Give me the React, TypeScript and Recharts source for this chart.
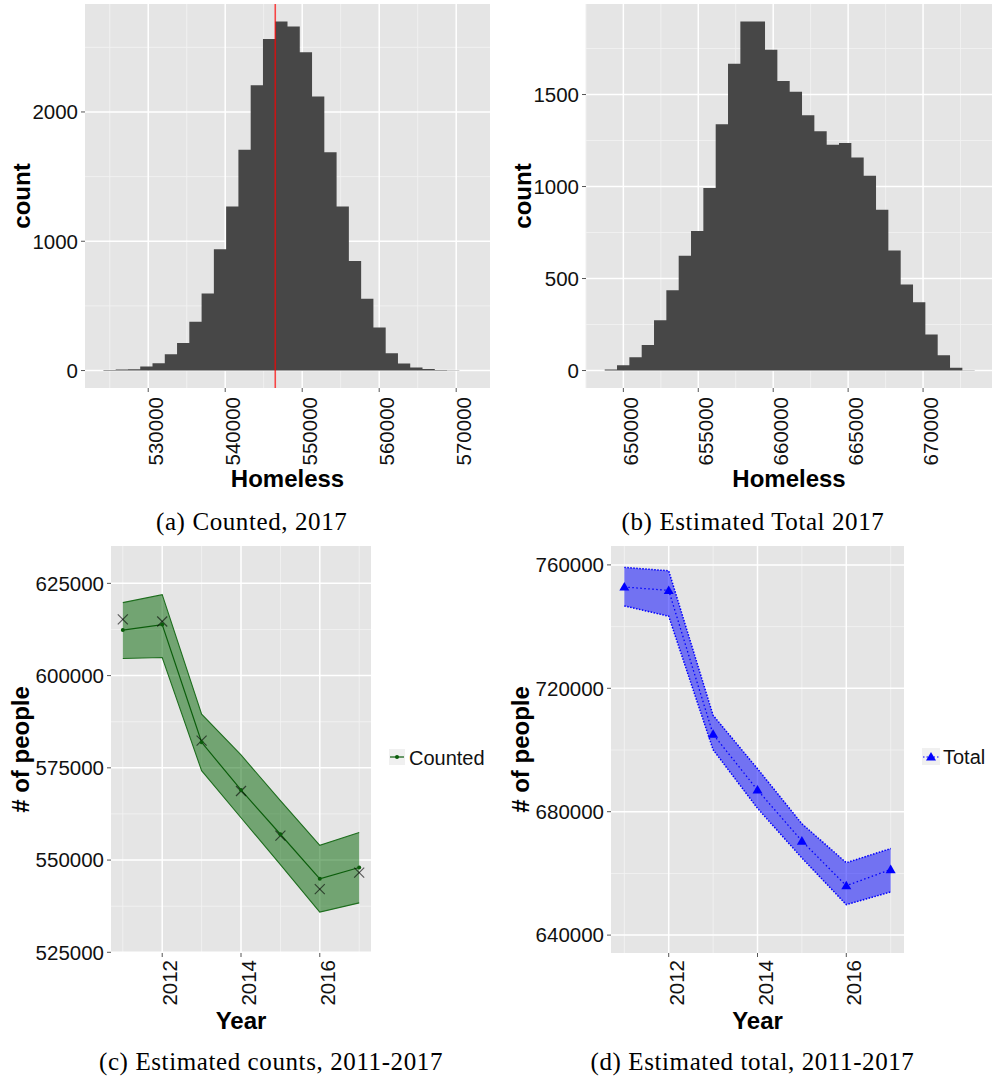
import React from "react";
import {
  ComposedChart,
  Area,
  Line,
  Scatter,
  XAxis,
  YAxis,
  CartesianGrid,
  ReferenceLine,
  Legend,
  Label,
} from "recharts";

const FONT = "'Liberation Sans', Arial, Helvetica, sans-serif";
const SERIF = "'Liberation Serif', 'Times New Roman', serif";
const PANEL = "#E5E5E5";
const MINOR = "#F2F2F2";
const TICK = "#555555";
const TEXT = "#111111";
const BAR = "#474747";

// ---------- (a) Counted, 2017 : histogram ----------
const countedBinEdges = [
  524180, 525774, 527368, 528962, 530556, 532150, 533744, 535338, 536932, 538526,
  540120, 541714, 543308, 544902, 546496, 548090, 549684, 551278, 552872, 554466,
  556060, 557654, 559248, 560842, 562436, 564030, 565624, 567218, 568812, 570406,
  572000,
];
const countedBinCounts = [
  4, 9, 10, 31, 57, 127, 214, 377, 596, 939, 1269, 1707, 2207, 2565, 2700, 2661,
  2462, 2119, 1689, 1269, 848, 555, 333, 134, 54, 23, 11, 5, 2, 1,
];
const countedMarker = 546500;
const countedXTicks = [530000, 540000, 550000, 560000, 570000];
const countedXMinor = [525000, 535000, 545000, 555000, 565000];
const countedYTicks = [0, 1000, 2000];
const countedYMinor = [500, 1500, 2500];

// ---------- (b) Estimated Total 2017 : histogram ----------
const totalBinEdges = [
  648755, 649578, 650401, 651224, 652047, 652870, 653693, 654516, 655339, 656162,
  656985, 657808, 658631, 659454, 660277, 661100, 661923, 662746, 663569, 664392,
  665215, 666038, 666861, 667684, 668507, 669330, 670153, 670976, 671799, 672622,
  673445,
];
const totalBinCounts = [
  5, 29, 72, 139, 273, 436, 624, 758, 992, 1338, 1667, 1897, 1897, 1743, 1573, 1515,
  1387, 1300, 1227, 1236, 1158, 1059, 874, 652, 467, 371, 196, 83, 15, 2,
];
const totalXTicks = [650000, 655000, 660000, 665000, 670000];
const totalXMinor = [647500, 652500, 657500, 662500, 667500, 672500];
const totalYTicks = [0, 500, 1000, 1500];
const totalYMinor = [250, 750, 1250, 1750];

// ---------- (c) Estimated counts, 2011-2017 ----------
const years = [2011, 2012, 2013, 2014, 2015, 2016, 2017];
const countedMean = [612333, 613839, 581920, 569001, 557003, 544922, 547991];
const countedLower = [604632, 604911, 574219, 561468, 548772, 535882, 538393];
const countedUpper = [619782, 621931, 589565, 578488, 566127, 554018, 557478];
const countedObserved = [615234, 614676, 582394, 568722, 556641, 542132, 546596];
const countsYTicks = [525000, 550000, 575000, 600000, 625000];
const countsYMinor = [537500, 562500, 587500, 612500];

// ---------- (d) Estimated total, 2011-2017 ----------
const totalMean = [752837, 751732, 705105, 687029, 670494, 656000, 661255];
const totalLower = [746711, 743364, 700084, 681105, 665000, 649874, 653992];
const totalUpper = [759197, 758092, 711230, 693925, 676084, 663464, 668050];
const totalYTicksD = [640000, 680000, 720000, 760000];
const totalYMinorD = [660000, 700000, 740000];

const yearTicks = [2012, 2014, 2016];
const yearMinor = [2011, 2013, 2015, 2017];

const histData = (edges: number[], counts: number[]) =>
  edges.map((x, i) => ({ x, count: counts[Math.min(i, counts.length - 1)] }));

const RotTick = (props: any) => {
  const { x, y, payload, off = 2 } = props;
  const tx = x + 15;
  const ty = y + off;
  return (
    <text
      x={tx}
      y={ty}
      transform={`rotate(-90, ${tx}, ${ty})`}
      textAnchor="end"
      fontSize={20.5}
      fontFamily={FONT}
      fill={TEXT}
    >
      {payload.value}
    </text>
  );
};

const yTickStyle = { fill: TEXT, fontSize: 20.5, fontFamily: FONT };

function Histogram(props: {
  left: number;
  width: number;
  yAxisWidth: number;
  edges: number[];
  counts: number[];
  xDomain: [number, number];
  yDomain: [number, number];
  xTicks: number[];
  xMinor: number[];
  yTicks: number[];
  yMinor: number[];
  marker?: number;
}) {
  const data = histData(props.edges, props.counts);
  return (
    <div style={{ position: "absolute", left: props.left, top: 0 }}>
      <ComposedChart
        width={props.width}
        height={500}
        data={data}
        margin={{ top: 4, right: 0, bottom: 0, left: 0 }}
      >
        <CartesianGrid
          fill={PANEL}
          stroke={MINOR}
          strokeWidth={0.9}
          verticalValues={props.xMinor}
          horizontalValues={props.yMinor}
        />
        <CartesianGrid
          stroke="#FFFFFF"
          strokeWidth={1.5}
          verticalValues={props.xTicks}
          horizontalValues={props.yTicks}
        />
        <XAxis
          type="number"
          dataKey="x"
          domain={props.xDomain}
          ticks={props.xTicks}
          interval={0}
          allowDataOverflow
          height={112}
          axisLine={false}
          tickLine={{ stroke: TICK }}
          tickSize={4}
          tickMargin={2}
          tick={(p: any) => <RotTick {...p} off={3} />}
        >
          <Label
            value="Homeless"
            position="center"
            dy={34.5}
            fontSize={24}
            fontWeight="bold"
            fontFamily={FONT}
            fill="#000"
          />
        </XAxis>
        <YAxis
          type="number"
          domain={props.yDomain}
          ticks={props.yTicks}
          interval={0}
          allowDataOverflow
          width={props.yAxisWidth}
          axisLine={false}
          tickLine={{ stroke: TICK }}
          tickSize={4}
          tickMargin={3}
          tick={yTickStyle}
        >
          <Label
            value="count"
            position="center"
            angle={-90}
            dx={-21}
            fontSize={24}
            fontWeight="bold"
            fontFamily={FONT}
            fill="#000"
          />
        </YAxis>
        <Area
          type="stepAfter"
          dataKey="count"
          baseValue={0}
          fill={BAR}
          fillOpacity={1}
          stroke="none"
          isAnimationActive={false}
        />
        {props.marker !== undefined && (
          <ReferenceLine x={props.marker} stroke="#FF0000" strokeOpacity={0.7} strokeWidth={1.6} />
        )}
      </ComposedChart>
    </div>
  );
}

const XMark = (p: any) => {
  const { cx, cy } = p;
  if (cx == null || cy == null) return null;
  const s = 5;
  return (
    <g stroke="#000" strokeOpacity={0.6} strokeWidth={1.2}>
      <line x1={cx - s} y1={cy - s} x2={cx + s} y2={cy + s} />
      <line x1={cx - s} y1={cy + s} x2={cx + s} y2={cy - s} />
    </g>
  );
};

const Triangle = (p: any) => {
  const { cx, cy } = p;
  if (cx == null || cy == null) return null;
  return (
    <path
      d={`M${cx},${cy - 5} L${cx + 5},${cy + 3.6} L${cx - 5},${cy + 3.6} Z`}
      fill="#0000FF"
    />
  );
};

const countsData = years.map((year, i) => ({
  year,
  band: [countedLower[i], countedUpper[i]],
  mean: countedMean[i],
  observed: countedObserved[i],
}));

const totalData = years.map((year, i) => ({
  year,
  band: [totalLower[i], totalUpper[i]],
  mean: totalMean[i],
}));

const CountedKey = () => (
  <svg width={100} height={18} style={{ display: "block", overflow: "visible" }}>
    <rect x={0} y={0} width={16} height={16} fill="#F0F0F0" />
    <line x1={1} y1={8} x2={15} y2={8} stroke="#0B5D0B" strokeWidth={1.2} />
    <circle cx={8} cy={8} r={2} fill="#0B5D0B" />
    <text x={20} y={15.5} fontSize={20} fontFamily={FONT} fill={TEXT}>
      Counted
    </text>
  </svg>
);

const TotalKey = () => (
  <svg width={70} height={18} style={{ display: "block", overflow: "visible" }}>
    <rect x={0} y={0} width={18} height={17} fill="#F0F0F0" />
    <line x1={1} y1={9} x2={17} y2={9} stroke="#0000FF" strokeWidth={1.2} strokeDasharray="1.5 2" />
    <path d="M9,4 L14,12.6 L4,12.6 Z" fill="#0000FF" />
    <text x={21} y={16} fontSize={20} fontFamily={FONT} fill={TEXT}>
      Total
    </text>
  </svg>
);

function TrendAxes(props: { yDomain: [number, number]; yTicks: number[] }) {
  return null;
}

function CountsPanel() {
  return (
    <div style={{ position: "absolute", left: 0, top: 540 }}>
      <ComposedChart
        width={500}
        height={500}
        data={countsData}
        margin={{ top: 6, right: 129, bottom: 0, left: 0 }}
      >
        <CartesianGrid
          fill={PANEL}
          stroke={MINOR}
          strokeWidth={0.9}
          verticalValues={yearMinor}
          horizontalValues={countsYMinor}
        />
        <CartesianGrid
          stroke="#FFFFFF"
          strokeWidth={1.5}
          verticalValues={yearTicks}
          horizontalValues={countsYTicks}
        />
        <XAxis
          type="number"
          dataKey="year"
          domain={[2010.7, 2017.3]}
          ticks={yearTicks}
          interval={0}
          allowDataOverflow
          height={87}
          axisLine={false}
          tickLine={{ stroke: TICK }}
          tickSize={4}
          tickMargin={2}
          tick={(p: any) => <RotTick {...p} off={1} />}
        >
          <Label
            value="Year"
            position="center"
            dy={24}
            fontSize={24}
            fontWeight="bold"
            fontFamily={FONT}
            fill="#000"
          />
        </XAxis>
        <YAxis
          type="number"
          domain={[524811, 635129]}
          ticks={countsYTicks}
          interval={0}
          allowDataOverflow
          width={111}
          axisLine={false}
          tickLine={{ stroke: TICK }}
          tickSize={4}
          tickMargin={3}
          tick={yTickStyle}
        >
          <Label
            value="# of people"
            position="center"
            angle={-90}
            dx={-35.5}
            fontSize={24}
            fontWeight="bold"
            fontFamily={FONT}
            fill="#000"
          />
        </YAxis>
        <Area
          type="linear"
          dataKey="band"
          fill="#006400"
          fillOpacity={0.5}
          stroke="#1E6E1E"
          strokeWidth={1.1}
          isAnimationActive={false}
        />
        <Line
          type="linear"
          dataKey="mean"
          stroke="#0B5D0B"
          strokeWidth={1.2}
          dot={{ r: 2, fill: "#0B5D0B", stroke: "none" }}
          isAnimationActive={false}
        />
        <Scatter dataKey="observed" shape={XMark} isAnimationActive={false} />
        <Legend
          layout="horizontal"
          verticalAlign="middle"
          align="center"
          wrapperStyle={{ left: 389, top: 209, width: 105, height: 18 }}
          content={() => <CountedKey />}
        />
      </ComposedChart>
    </div>
  );
}

function TotalPanel() {
  return (
    <div style={{ position: "absolute", left: 500, top: 540 }}>
      <ComposedChart
        width={492}
        height={500}
        data={totalData}
        margin={{ top: 6, right: 88, bottom: 0, left: 0 }}
      >
        <CartesianGrid
          fill={PANEL}
          stroke={MINOR}
          strokeWidth={0.9}
          verticalValues={yearMinor}
          horizontalValues={totalYMinorD}
        />
        <CartesianGrid
          stroke="#FFFFFF"
          strokeWidth={1.5}
          verticalValues={yearTicks}
          horizontalValues={totalYTicksD}
        />
        <XAxis
          type="number"
          dataKey="year"
          domain={[2010.7, 2017.3]}
          ticks={yearTicks}
          interval={0}
          allowDataOverflow
          height={87}
          axisLine={false}
          tickLine={{ stroke: TICK }}
          tickSize={4}
          tickMargin={2}
          tick={(p: any) => <RotTick {...p} off={1} />}
        >
          <Label
            value="Year"
            position="center"
            dy={24}
            fontSize={24}
            fontWeight="bold"
            fontFamily={FONT}
            fill="#000"
          />
        </XAxis>
        <YAxis
          type="number"
          domain={[634198, 766126]}
          ticks={totalYTicksD}
          interval={0}
          allowDataOverflow
          width={111}
          axisLine={false}
          tickLine={{ stroke: TICK }}
          tickSize={4}
          tickMargin={3}
          tick={yTickStyle}
        >
          <Label
            value="# of people"
            position="center"
            angle={-90}
            dx={-35.5}
            fontSize={24}
            fontWeight="bold"
            fontFamily={FONT}
            fill="#000"
          />
        </YAxis>
        <Area
          type="linear"
          dataKey="band"
          fill="#0000FF"
          fillOpacity={0.5}
          stroke="#0000FF"
          strokeWidth={1.5}
          strokeDasharray="1.5 1.5"
          isAnimationActive={false}
        />
        <Line
          type="linear"
          dataKey="mean"
          stroke="#0000FF"
          strokeWidth={1.3}
          strokeDasharray="1.5 2.5"
          dot={Triangle}
          isAnimationActive={false}
        />
        <Legend
          layout="horizontal"
          verticalAlign="middle"
          align="center"
          wrapperStyle={{ left: 422, top: 208, width: 70, height: 18 }}
          content={() => <TotalKey />}
        />
      </ComposedChart>
    </div>
  );
}

const captions = [
  { text: "(a) Counted, 2017", x: 251.7, y: 530 },
  { text: "(b) Estimated Total 2017", x: 753, y: 530 },
  { text: "(c) Estimated counts, 2011-2017", x: 271, y: 1070 },
  { text: "(d) Estimated total, 2011-2017", x: 752.5, y: 1070 },
];

export default function App() {
  return (
    <div
      style={{
        position: "absolute",
        left: 0,
        top: 0,
        width: 992,
        height: 1080,
        background: "#FFFFFF",
        overflow: "hidden",
      }}
    >
      <Histogram
        left={0}
        width={490}
        yAxisWidth={85}
        edges={countedBinEdges}
        counts={countedBinCounts}
        xDomain={[521788, 574391]}
        yDomain={[-135, 2835]}
        xTicks={countedXTicks}
        xMinor={countedXMinor}
        yTicks={countedYTicks}
        yMinor={countedYMinor}
        marker={countedMarker}
      />
      <Histogram
        left={500}
        width={492}
        yAxisWidth={86}
        edges={totalBinEdges}
        counts={totalBinCounts}
        xDomain={[647508, 674600]}
        yDomain={[-95, 1992]}
        xTicks={totalXTicks}
        xMinor={totalXMinor}
        yTicks={totalYTicks}
        yMinor={totalYMinor}
      />
      <CountsPanel />
      <TotalPanel />
      <svg
        width={992}
        height={1080}
        style={{ position: "absolute", left: 0, top: 0, pointerEvents: "none" }}
      >
        {captions.map((c) => (
          <text
            key={c.text}
            x={c.x}
            y={c.y}
            textAnchor="middle"
            fontSize={25}
            fontFamily={SERIF}
            letterSpacing={0.6}
            fill="#000"
          >
            {c.text}
          </text>
        ))}
      </svg>
    </div>
  );
}
